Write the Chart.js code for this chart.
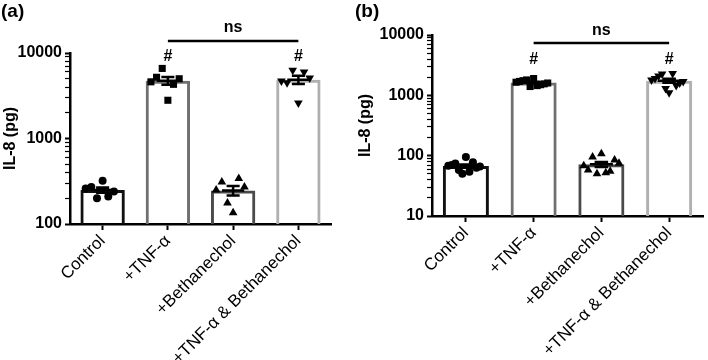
<!DOCTYPE html>
<html>
<head>
<meta charset="utf-8">
<script src="https://cdn.jsdelivr.net/npm/chart.js@4.4.1/dist/chart.umd.min.js"></script>
<style>
  body { margin: 0; background: #fff; }
  .panel { position: absolute; top: 0; width: 354px; height: 360px; }
</style>
</head>
<body>
<div class="panel" style="left:0"><canvas id="chartA" width="354" height="360"></canvas></div>
<div class="panel" style="left:354px"><canvas id="chartB" width="354" height="360"></canvas></div>
<script>
const categories = ['Control', '+TNF-α', '+Bethanechol', '+TNF-α & Bethanechol'];
const yTicksA = [100, 1000, 10000];
const yTicksB = [10, 100, 1000, 10000];

// panel (a), individual values (pg)
const controlA = [320, 270, 260, 240, 210, 200];
const tnfA = [6600, 5200, 5000, 4600, 4300, 2800];
const bethA = [340, 310, 270, 250, 176, 135];
const tnfBethA = [6300, 6000, 5100, 4700, 4500, 2600];

// panel (b)
const controlB = [95, 78, 74, 70, 68, 66, 63, 58, 54, 50];
const tnfB = [1900, 1800, 1750, 1700, 1650, 1600, 1550, 1500, 1450, 1400];
const bethB = [108, 95, 85, 75, 68, 58, 55, 52, 50];
const tnfBethB = [2300, 2250, 2100, 1900, 1800, 1700, 1600, 1450, 1300, 1100];

const hashGroups = [1, 3];
const nsPair = [1, 3];

const FONT = "'Liberation Sans', Arial, sans-serif";
const edgeColors = ['#111111', '#707070', '#4a4a4a', '#b0b0b0'];
const pointStyles = ['circle', 'rect', 'triangle', 'triangle'];
const pointRot = [0, 0, 0, 180];
const pointSize = [4, 5, 5, 5];

function mean(a) { return a.reduce((s, v) => s + v, 0) / a.length; }
function sem(a) {
  const m = mean(a);
  const sd = Math.sqrt(a.reduce((s, v) => s + (v - m) * (v - m), 0) / (a.length - 1));
  return sd / Math.sqrt(a.length);
}

// spread the dots sideways, outliers in the middle
function spread(vals) {
  const lm = Math.log10(mean(vals));
  const order = vals.map((v, i) => i)
    .sort((p, q) => Math.abs(Math.log10(vals[q]) - lm) - Math.abs(Math.log10(vals[p]) - lm));
  const step = 0.26 / Math.ceil((vals.length - 1) / 2);
  const off = new Array(vals.length);
  order.forEach((idx, j) => {
    off[idx] = Math.ceil(j / 2) * (j % 2 ? -1 : 1) * step;
  });
  return off;
}

const annotate = {
  id: 'annotate',
  afterDraw(chart, args, o) {
    const ctx = chart.ctx;
    const x = chart.scales.x, y = chart.scales.y;
    const catW = x.width / categories.length;
    ctx.save();
    ctx.strokeStyle = '#000';
    ctx.lineWidth = 2.5;
    // mean +/- SEM
    o.groups.forEach((vals, i) => {
      const m = mean(vals), s = sem(vals);
      const cx = x.getPixelForValue(i);
      const yt = y.getPixelForValue(m + s), yb = y.getPixelForValue(Math.max(m - s, y.min));
      const ym = y.getPixelForValue(m);
      ctx.beginPath();
      ctx.moveTo(cx - catW * 0.17, ym); ctx.lineTo(cx + catW * 0.17, ym);
      ctx.moveTo(cx, yt); ctx.lineTo(cx, yb);
      ctx.moveTo(cx - catW * 0.1, yt); ctx.lineTo(cx + catW * 0.1, yt);
      ctx.moveTo(cx - catW * 0.1, yb); ctx.lineTo(cx + catW * 0.1, yb);
      ctx.stroke();
    });
    ctx.fillStyle = '#000';
    ctx.textAlign = 'center';
    ctx.textBaseline = 'middle';
    ctx.font = 'bold 16px ' + FONT;
    hashGroups.forEach(i => ctx.fillText('#', x.getPixelForValue(i), chart.chartArea.top + o.hashY));
    const x1 = x.getPixelForValue(nsPair[0]), x2 = x.getPixelForValue(nsPair[1]);
    const ly = chart.chartArea.top + o.lineY;
    ctx.beginPath();
    ctx.moveTo(x1, ly); ctx.lineTo(x2, ly);
    ctx.stroke();
    ctx.fillText('ns', (x1 + x2) / 2, chart.chartArea.top + o.nsY);
    ctx.textAlign = 'left';
    ctx.font = 'bold 19px ' + FONT;
    ctx.fillText(o.label, 1, 12);
    ctx.restore();
  }
};

function makeChart(id, groups, ticks, cfg) {
  const datasets = [{
    type: 'bar',
    data: groups.map(mean),
    backgroundColor: 'rgba(255,255,255,0)',
    borderColor: edgeColors,
    borderWidth: 3,
    categoryPercentage: 1,
    barPercentage: 0.68,
    grouped: false,
    order: 2
  }];
  groups.forEach((vals, i) => {
    const off = spread(vals);
    datasets.push({
      type: 'scatter',
      xAxisID: 'xs',
      data: vals.map((v, j) => ({ x: i + off[j], y: v })),
      pointStyle: pointStyles[i],
      rotation: pointRot[i],
      pointRadius: pointSize[i],
      backgroundColor: '#000',
      borderColor: '#000',
      borderWidth: 0,
      order: 1
    });
  });

  const minor = [];
  ticks.forEach((t, k) => {
    if (k === ticks.length - 1) return;
    for (let m = 1; m < 10; m++) minor.push(t * m);
  });
  minor.push(ticks[ticks.length - 1]);

  return new Chart(document.getElementById(id), {
    type: 'bar',
    data: { labels: categories, datasets: datasets },
    options: {
      responsive: false,
      animation: false,
      layout: { padding: { top: cfg.top, right: cfg.right, bottom: 0, left: 0 } },
      scales: {
        x: {
          offset: true,
          grid: { drawOnChartArea: false, offset: false, tickLength: 6, tickWidth: 2, tickColor: '#000' },
          border: { color: '#000', width: 2.5 },
          ticks: { color: '#000', font: { family: FONT, size: 17 }, minRotation: 45, maxRotation: 45, padding: 1 },
          afterFit: s => { s.height = cfg.xh; }
        },
        xs: { type: 'linear', display: false, offset: false, min: -0.5, max: 3.5 },
        y: {
          type: 'logarithmic',
          min: ticks[0],
          max: ticks[ticks.length - 1],
          afterBuildTicks: s => { s.ticks = minor.map(v => ({ value: v, major: ticks.includes(v) })); },
          grid: {
            drawOnChartArea: false, tickLength: 5, tickColor: '#000',
            tickWidth: c => (c.tick && ticks.includes(c.tick.value)) ? 2 : 1.2
          },
          border: { color: '#000', width: 2.5 },
          ticks: {
            autoSkip: false,
            color: '#000',
            padding: 3,
            font: { family: FONT, size: 16, weight: 'bold' },
            callback: v => ticks.includes(v) ? String(v) : ''
          },
          title: { display: true, text: 'IL-8 (pg)', color: '#000', font: { family: FONT, size: 16, weight: 'bold' }, padding: { top: cfg.tp, bottom: 0 } },
          afterFit: s => { s.width = cfg.yw; }
        }
      },
      plugins: {
        legend: { display: false },
        tooltip: { enabled: false },
        annotate: { groups: groups, label: cfg.label, hashY: cfg.hashY, lineY: cfg.lineY, nsY: cfg.nsY }
      }
    },
    plugins: [annotate]
  });
}

makeChart('chartA', [controlA, tnfA, bethA, tnfBethA], yTicksA,
  { top: 53, right: 23, xh: 136, yw: 70, tp: 1, label: '(a)', hashY: 4, lineY: -12, nsY: -25 });
makeChart('chartB', [controlB, tnfB, bethB, tnfBethB], yTicksB,
  { top: 35, right: 2, xh: 144, yw: 78, tp: 2, label: '(b)', hashY: 25, lineY: 8, nsY: -4 });
</script>
</body>
</html>
